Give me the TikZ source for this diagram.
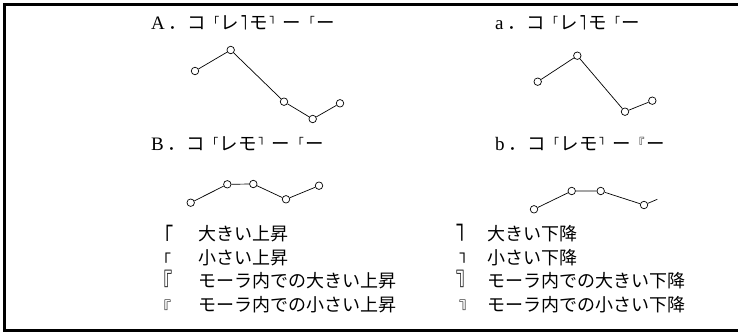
\documentclass[tikz,border=0pt]{standalone}
\usepackage{fontspec}
\usepackage{graphicx}
\setmainfont{Liberation Serif}
\newfontfamily\jp{Noto Sans CJK JP}
% title brackets
\newcommand\sR{\makebox[15pt][c]{\raisebox{3pt}{\fontsize{12}{12}\selectfont 「}}}
\newcommand\sF{\makebox[15pt][c]{\raisebox{3pt}{\reflectbox{\fontsize{12}{12}\selectfont 「}}}}
\newcommand\sRR{\makebox[15pt][c]{\raisebox{3pt}{\fontsize{12}{12}\selectfont 『}}}
\newcommand\bF{\makebox[10pt][l]{\hspace{2pt}\raisebox{-4.5pt}{\scalebox{1}[1.6]{\reflectbox{\fontsize{14}{14}\selectfont 「}}}}}
\newcommand\Lat[1]{{\rmfamily\fontsize{19}{19}\selectfont #1}\hspace{4pt}}
\begin{document}
\begin{tikzpicture}[x=1pt,y=-1pt,
 pt/.style={circle,draw,fill=white,inner sep=0pt,minimum size=7.5pt,line width=0.7pt},
 ln/.style={line width=0.7pt},
 ttl/.style={anchor=base west,inner sep=0pt,font=\jp\fontsize{18.5}{18.5}\selectfont},
 lg/.style={anchor=base west,inner sep=0pt,font=\jp\fontsize{18}{18}\selectfont},
 bigsym/.style={anchor=base west,inner sep=0pt,font=\jp\fontsize{24}{24}\selectfont},
 smallsym/.style={anchor=base west,inner sep=0pt,font=\jp\fontsize{16}{16}\selectfont}]
\useasboundingbox (0,0) rectangle (738,336);
\draw[line width=2.6pt] (745,4.3) -- (4.3,4.3) -- (4.3,330.7) -- (745,330.7);
% titles
\node[ttl] (tA) at (151,30) {\Lat{A}．コ\sR レ\bF モ\sF ー\sR ー};
\node[ttl] (ta) at (495,30) {\Lat{a}．コ\sR レ\bF モ\sR ー};
\node[ttl] (tB) at (151,151) {\Lat{B}．コ\sR レモ\sF ー\sR ー};
\node[ttl] (tb) at (495,151) {\Lat{b}．コ\sR レモ\sF ー\sRR ー};
% graph A
\node[pt] (A1) at (195,71) {};
\node[pt] (A2) at (230.7,50) {};
\node[pt] (A3) at (284,101.7) {};
\node[pt] (A4) at (312.7,119) {};
\node[pt] (A5) at (340,103.3) {};
\draw[ln] (A1) -- (A2) -- (A3) -- (A4) -- (A5);
% graph a
\node[pt] (a1) at (537.7,81.7) {};
\node[pt] (a2) at (577.3,55.7) {};
\node[pt] (a3) at (625,111.7) {};
\node[pt] (a4) at (652.3,100.7) {};
\draw[ln] (a1) -- (a2) -- (a3) -- (a4);
% graph B
\node[pt] (B1) at (190.7,202.7) {};
\node[pt] (B2) at (227.3,184.3) {};
\node[pt] (B3) at (253.3,184) {};
\node[pt] (B4) at (286,199.3) {};
\node[pt] (B5) at (319,185.7) {};
\draw[ln] (B1) -- (B2) -- (B3) -- (B4) -- (B5);
% graph b
\node[pt] (b1) at (534,209.3) {};
\node[pt] (b2) at (571.7,191) {};
\node[pt] (b3) at (600.7,191) {};
\node[pt] (b4) at (644,205) {};
\coordinate (b5) at (657.3,199.3);
\draw[ln] (b1) -- (b2) -- (b3) -- (b4) -- (b5);
% legend left
\node[bigsym] (s1) at (154,246.5) {\scalebox{0.8}[1.05]{「}};
\node[smallsym] (s2) at (155,266.5) {「};
\node[bigsym] (s3) at (153.5,292.5) {\scalebox{0.8}[1.1]{『}};
\node[smallsym] (s4) at (155,313) {『};
\node[lg] (l1) at (198,241) {大きい上昇};
\node[lg] (l2) at (198,264.5) {小さい上昇};
\node[lg] (l3) at (198,287.5) {モーラ内での大きい上昇};
\node[lg] (l4) at (198,311) {モーラ内での小さい上昇};
% legend right
\node[bigsym] (f1) at (456,247) {\scalebox{0.8}[1.1]{\reflectbox{「}}};
\node[smallsym] (f2) at (459,266.5) {\reflectbox{「}};
\node[bigsym] (f3) at (456,293) {\scalebox{0.8}[1.1]{\reflectbox{『}}};
\node[smallsym] (f4) at (459,313) {\reflectbox{『}};
\node[lg] (r1) at (487,241) {大きい下降};
\node[lg] (r2) at (487,264.5) {小さい下降};
\node[lg] (r3) at (487,287.5) {モーラ内での大きい下降};
\node[lg] (r4) at (487,311) {モーラ内での小さい下降};
\end{tikzpicture}
\end{document}
